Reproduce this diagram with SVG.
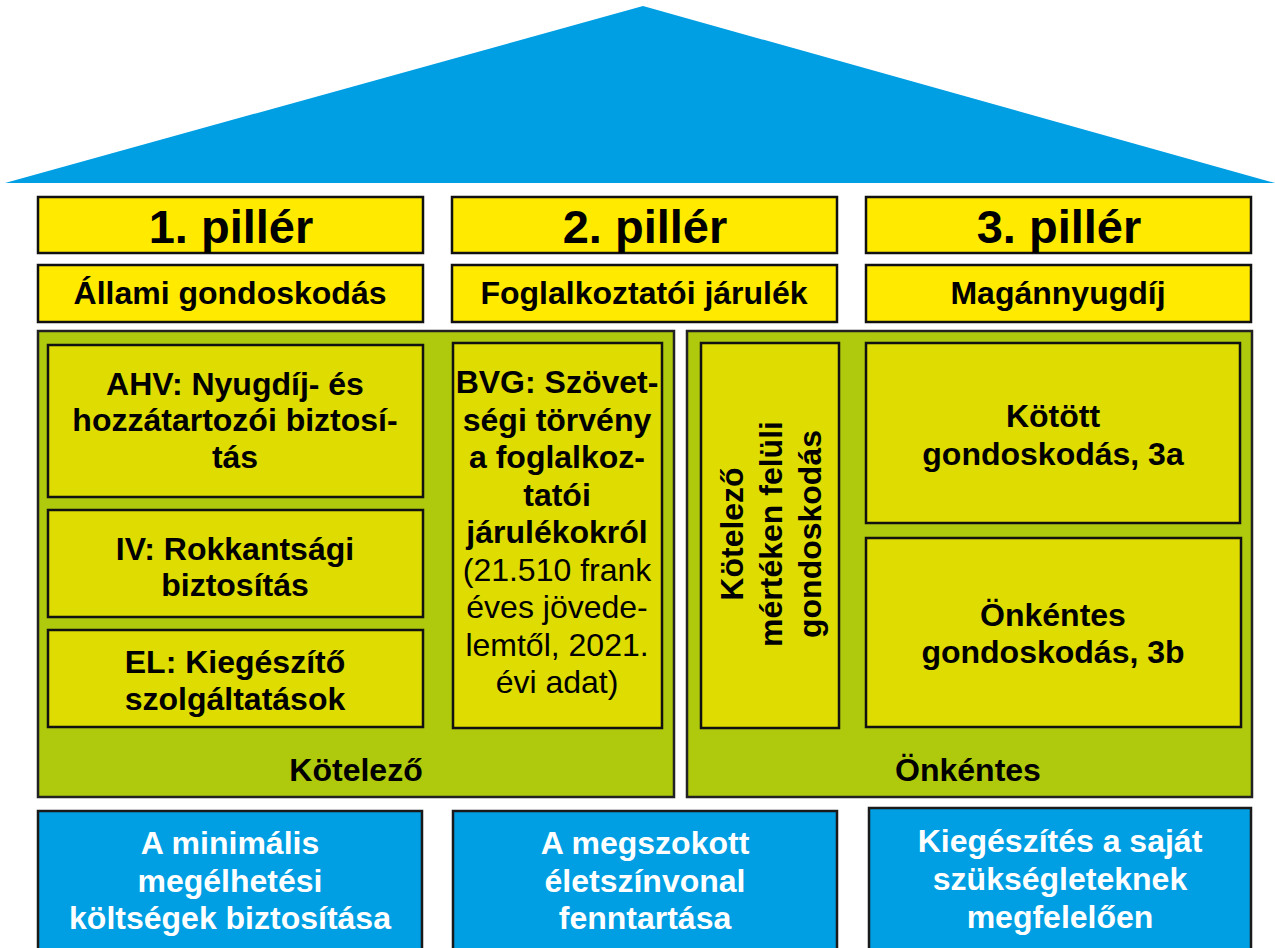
<svg xmlns="http://www.w3.org/2000/svg" width="1275" height="948" viewBox="0 0 1275 948">
<style>
.hd{fill:#FFEA00;stroke:#111;stroke-width:2.5}
.pan{fill:#AFC90C;stroke:#222;stroke-width:2.5}
.in{fill:#DEDC00;stroke:#111;stroke-width:2.5}
.bl{fill:#009FE3;stroke:#1a1a1a;stroke-width:2.5}
text{font-family:"Liberation Sans",Arial,sans-serif;font-weight:bold;text-anchor:middle;fill:#000}
.big{font-size:47px}
.t{font-size:32px}
.r{font-weight:normal}
.w{fill:#fff}
</style>
<g id="roof"><polygon points="5,183 643,6 1275,183" fill="#009FE3"/></g>
<g id="p1-head"><rect class="hd" x="38" y="197" width="385" height="56"/><text class="big" x="231" y="243">1. pillér</text></g>
<g id="p2-head"><rect class="hd" x="452" y="197" width="385" height="56"/><text class="big" x="645" y="243">2. pillér</text></g>
<g id="p3-head"><rect class="hd" x="866" y="197" width="385" height="56"/><text class="big" x="1059" y="243">3. pillér</text></g>
<g id="p1-sub"><rect class="hd" x="38" y="265" width="385" height="57"/><text class="t" x="230" y="304">Állami gondoskodás</text></g>
<g id="p2-sub"><rect class="hd" x="452" y="265" width="385" height="57"/><text class="t" x="644" y="304">Foglalkoztatói járulék</text></g>
<g id="p3-sub"><rect class="hd" x="866" y="265" width="385" height="57"/><text class="t" x="1058" y="304">Magánnyugdíj</text></g>
<g id="kotelezo-panel"><rect class="pan" x="38" y="331" width="636" height="466"/><text class="t" x="356" y="781">Kötelező</text></g>
<g id="onkentes-panel"><rect class="pan" x="687" y="331" width="565" height="466"/><text class="t" x="968" y="781">Önkéntes</text></g>
<g id="ahv"><rect class="in" x="48" y="345" width="375" height="152"/>
<text class="t" x="235" y="395">AHV: Nyugdíj- és</text>
<text class="t" x="235" y="431">hozzátartozói biztosí-</text>
<text class="t" x="235" y="468">tás</text></g>
<g id="iv"><rect class="in" x="48" y="510" width="375" height="107"/>
<text class="t" x="235" y="560">IV: Rokkantsági</text>
<text class="t" x="235" y="596">biztosítás</text></g>
<g id="el"><rect class="in" x="48" y="630" width="375" height="97"/>
<text class="t" x="235" y="673">EL: Kiegészítő</text>
<text class="t" x="235" y="710">szolgáltatások</text></g>
<g id="bvg"><rect class="in" x="453" y="343" width="209" height="385"/>
<text class="t" x="557" y="393">BVG: Szövet-</text>
<text class="t" x="557" y="430.5">ségi törvény</text>
<text class="t" x="557" y="468">a foglalkoz-</text>
<text class="t" x="557" y="505.5">tatói</text>
<text class="t" x="557" y="543">járulékokról</text>
<text class="t r" x="557" y="580.5">(21.510 frank</text>
<text class="t r" x="557" y="618">éves jövede-</text>
<text class="t r" x="557" y="655.5">lemtől, 2021.</text>
<text class="t r" x="557" y="693">évi adat)</text></g>
<g id="felul"><rect class="in" x="701" y="343" width="138" height="385"/>
<g transform="translate(770,534) rotate(-90)">
<text class="t" x="0" y="-27">Kötelező</text>
<text class="t" x="0" y="12">mértéken felüli</text>
<text class="t" x="0" y="51">gondoskodás</text></g></g>
<g id="p3a"><rect class="in" x="866" y="343" width="374" height="180"/>
<text class="t" x="1053" y="427">Kötött</text>
<text class="t" x="1053" y="465">gondoskodás, 3a</text></g>
<g id="p3b"><rect class="in" x="866" y="538" width="375" height="189"/>
<text class="t" x="1053" y="626">Önkéntes</text>
<text class="t" x="1053" y="663">gondoskodás, 3b</text></g>
<g id="goal1"><rect class="bl" x="38" y="811" width="384" height="145"/>
<text class="t w" x="230" y="854">A minimális</text>
<text class="t w" x="230" y="892">megélhetési</text>
<text class="t w" x="230" y="929">költségek biztosítása</text></g>
<g id="goal2"><rect class="bl" x="453" y="811" width="384" height="145"/>
<text class="t w" x="645" y="854">A megszokott</text>
<text class="t w" x="645" y="892">életszínvonal</text>
<text class="t w" x="645" y="929">fenntartása</text></g>
<g id="goal3"><rect class="bl" x="869" y="808" width="382" height="148"/>
<text class="t w" x="1060" y="852">Kiegészítés a saját</text>
<text class="t w" x="1060" y="890">szükségleteknek</text>
<text class="t w" x="1060" y="928">megfelelően</text></g>
<g id="connectors"></g>
</svg>
